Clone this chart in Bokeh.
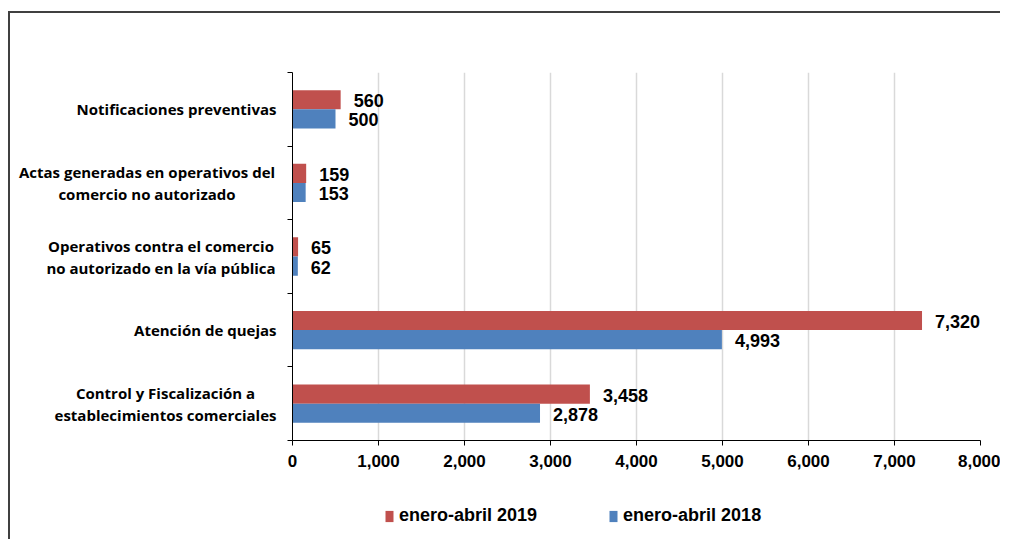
from bokeh.plotting import figure
from bokeh.layouts import column, row
from bokeh.core.properties import value
from bokeh.models import (ColumnDataSource, LabelSet, Legend, LegendItem,
                          FixedTicker, NumeralTickFormatter, Range1d)
from bokeh.embed import file_html
from bokeh.resources import INLINE

# ---------------- data ----------------
categories = [
    "Control y Fiscalización a\nestablecimientos comerciales",
    "Atención de quejas",
    "Operativos contra el comercio\nno autorizado en la vía pública",
    "Actas generadas en operativos del\ncomercio no autorizado",
    "Notificaciones preventivas",
]
values_2019 = [3458, 7320, 65, 159, 560]
values_2018 = [2878, 4993, 62, 153, 500]
series_names = ["enero-abril 2019", "enero-abril 2018"]
x_ticks = [0, 1000, 2000, 3000, 4000, 5000, 6000, 7000, 8000]

# ---------------- styling / layout ----------------
RED = "#C0504D"
BLUE = "#4F81BD"
NUM_FONT = "Liberation Sans"
CAT_FONT = "Open Sans"

n = len(categories)
centers = [i + 0.5 for i in range(n)]
off = 0.13
bar_h = 0.26
yr = Range1d(0, n)

src19 = ColumnDataSource(dict(y=[c + off for c in centers], v=values_2019,
                              t=[f"{v:,}" for v in values_2019]))
src18 = ColumnDataSource(dict(y=[c - off for c in centers], v=values_2018,
                              t=[f"{v:,}" for v in values_2018]))

# ---------------- category label column ----------------
LAB_W = 272
lab = figure(width=LAB_W, height=470, output_backend="svg", toolbar_location=None,
             x_axis_type=None, y_axis_type=None, x_range=Range1d(0, LAB_W),
             y_range=yr, min_border_left=0, min_border_right=0,
             min_border_top=59, min_border_bottom=43)
lab.outline_line_color = None
lab.grid.grid_line_color = None
# horizontal anchor (screen px in this panel) and alignment per label block
lab_src = ColumnDataSource(dict(
    x=[155, 266, 150.5, 136.5, 266],
    y=centers,
    text=categories,
    align=["center", "right", "center", "center", "right"],
))
lab.text(x="x", y="y", text="text", source=lab_src, text_align="align",
         text_baseline="middle", text_font=value(CAT_FONT),
         text_font_style="bold", text_font_size="15px", text_color="black",
         text_line_height=1.1)

# ---------------- main chart ----------------
p = figure(width=990 - LAB_W, height=470, output_backend="svg",
           toolbar_location=None, x_range=Range1d(0, 8000), y_range=yr,
           min_border_left=10, min_border_right=20, min_border_top=59,
           min_border_bottom=43)
p.outline_line_color = None
p.background_fill_color = "white"
p.border_fill_color = "white"

r19 = p.hbar(y="y", right="v", left=0, height=bar_h, source=src19,
             fill_color=RED, line_color=None)
r18 = p.hbar(y="y", right="v", left=0, height=bar_h, source=src18,
             fill_color=BLUE, line_color=None)

for src in (src19, src18):
    p.add_layout(LabelSet(x="v", y="y", text="t", source=src, x_offset=13,
                          y_offset=-1, text_baseline="middle", text_align="left",
                          text_font=value(NUM_FONT), text_font_style="bold",
                          text_font_size="18px", text_color="black"))

p.xaxis.ticker = FixedTicker(ticks=x_ticks)
p.xaxis.formatter = NumeralTickFormatter(format="0,0")
p.xaxis.axis_line_color = "black"
p.xaxis.major_tick_line_color = "black"
p.xaxis.major_tick_out = 5
p.xaxis.major_tick_in = 0
p.xaxis.minor_tick_line_color = None
p.xaxis.major_label_standoff = 9
p.xaxis.major_label_text_font = NUM_FONT
p.xaxis.major_label_text_font_style = "bold"
p.xaxis.major_label_text_font_size = "17px"
p.xaxis.major_label_text_color = "black"

p.yaxis.ticker = FixedTicker(ticks=[], minor_ticks=list(range(n + 1)))
p.yaxis.axis_line_color = "black"
p.yaxis.minor_tick_line_color = "black"
p.yaxis.minor_tick_out = 5
p.yaxis.minor_tick_in = 0
p.yaxis.major_tick_line_color = None
p.yaxis.major_tick_out = 0
p.yaxis.major_label_standoff = 0
p.yaxis.major_label_text_font_size = "0px"

p.xgrid.ticker = FixedTicker(ticks=x_ticks)
p.xgrid.grid_line_color = "#d9d9d9"
p.xgrid.grid_line_width = 1.5
p.ygrid.grid_line_color = None

# ---------------- legend strip ----------------
lg = figure(width=990, height=56, output_backend="svg", toolbar_location=None,
            x_axis_type=None, y_axis_type=None, x_range=Range1d(0, 1),
            y_range=Range1d(100, 101), min_border=0)
lg.outline_line_color = None
lg.grid.grid_line_color = None
lg_r19 = lg.hbar(y="y", right="v", height=bar_h, source=src19,
                 fill_color=RED, line_color=None)
lg_r18 = lg.hbar(y="y", right="v", height=bar_h, source=src18,
                 fill_color=BLUE, line_color=None)
legend = Legend(items=[LegendItem(label=series_names[0], renderers=[lg_r19]),
                       LegendItem(label=series_names[1], renderers=[lg_r18])],
                orientation="horizontal", location=(374, 13),
                glyph_width=10, glyph_height=14, label_standoff=5, spacing=71,
                padding=0, margin=0, border_line_color=None,
                background_fill_alpha=0,
                label_text_font=NUM_FONT, label_text_font_style="bold",
                label_text_font_size="18px", label_text_color="black")
lg.add_layout(legend)

layout = column(row(lab, p, spacing=0), lg, spacing=0)
layout.styles = {"border-left": "2px solid #404040", "border-top": "2px solid #404040",
                 "margin-top": "11px", "margin-left": "8px"}

open("out.html", "w").write(file_html(layout, INLINE))
